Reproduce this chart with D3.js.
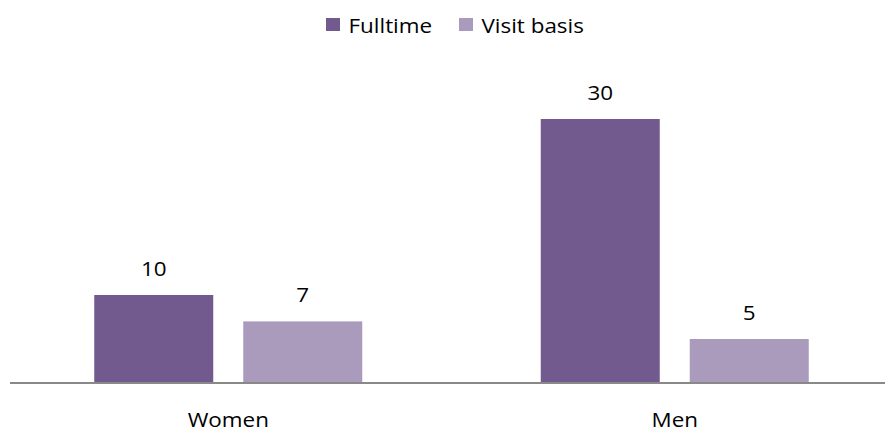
<!DOCTYPE html>
<html><head><meta charset="utf-8">
<script src="https://cdn.jsdelivr.net/npm/d3@7"></script>
<style>body{margin:0;background:#fff}svg{display:block}text{font-family:"Open Sans",sans-serif;fill:#000}</style>
</head><body>
<svg id="c" width="885" height="432"></svg>
<script>
const categories = ["Women", "Men"];
const seriesNames = ["Fulltime", "Visit basis"];
const fulltime = [10, 30];
const visitBasis = [7, 5];
const colors = ["#725a8f", "#aa9bbd"];

const svg = d3.select("#c");
const FS = 19.5, SX = 1.15;
const baseY = 383, topY = 119;
const x0 = d3.scaleBand().domain(categories).range([5, 898]).padding(0);
const groupW = 268;
const x1 = d3.scaleBand().domain(seriesNames)
  .range([(x0.bandwidth() - groupW) / 2, (x0.bandwidth() + groupW) / 2])
  .paddingInner(30 / 149).paddingOuter(0);
const y = d3.scaleLinear().domain([0, 30]).range([baseY, topY]);

const values = [fulltime, visitBasis];
const rows = [];
categories.forEach((c, ci) => seriesNames.forEach((s, si) => rows.push({c, s, si, v: values[si][ci]})));

const g = svg.append("g");
g.selectAll("rect.bar").data(rows).join("rect")
  .attr("class", "bar")
  .attr("x", d => x0(d.c) + x1(d.s))
  .attr("width", x1.bandwidth())
  .attr("y", d => y(d.v))
  .attr("height", d => y(0) - y(d.v))
  .attr("fill", d => colors[d.si]);

g.selectAll("text.lbl").data(rows).join("text")
  .attr("class", "lbl")
  .attr("transform", d => `translate(${x0(d.c) + x1(d.s) + x1.bandwidth() / 2},${y(d.v) - 19}) scale(${SX},1)`)
  .attr("text-anchor", "middle")
  .attr("font-size", FS)
  .text(d => d.v);

// baseline axis
const axis = d3.axisBottom(x0).tickSize(0);
const ax = svg.append("g").attr("transform", `translate(0,${baseY})`).call(axis);
ax.select(".domain").attr("d", `M10,0H885`).attr("stroke", "#898989").attr("stroke-width", 2);
ax.selectAll(".tick text")
  .attr("y", 0).attr("dy", 0)
  .attr("transform", `translate(0,44) scale(${SX},1)`)
  .attr("font-size", FS).attr("font-family", '"Open Sans",sans-serif').attr("fill", "#000");

// legend
const leg = svg.append("g");
const legX = [326, 459];
seriesNames.forEach((s, i) => {
  leg.append("rect").attr("x", legX[i]).attr("y", 18).attr("width", 14).attr("height", 13).attr("fill", colors[i]);
  leg.append("text").attr("transform", `translate(${legX[i] + 22.5},32.5) scale(${SX},1)`)
    .attr("font-size", FS).text(s);
});
</script>
</body></html>
